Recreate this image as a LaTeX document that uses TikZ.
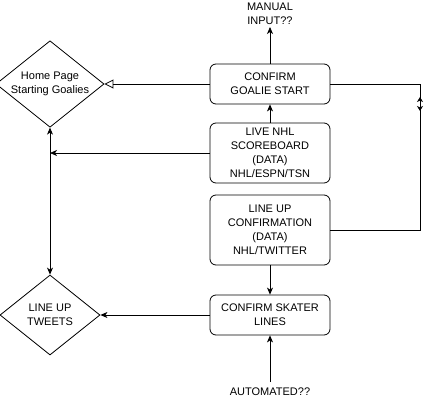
\documentclass[tikz,border=0pt]{standalone}
\usepackage{fontspec}
\setmainfont{Liberation Sans}
\usetikzlibrary{shapes.geometric,arrows.meta}
\begin{document}
\begin{tikzpicture}[x=1pt,y=-1pt,
  font=\fontsize{11}{14}\selectfont,
  line width=0.8pt,
  rbox/.style={draw,rounded corners=6pt,minimum width=120pt,align=center,inner sep=0pt},
  dia/.style={draw,diamond,aspect=1.25,minimum width=100pt,minimum height=80pt,inner sep=0pt,align=center},
  arr/.style={-{Stealth[length=7pt,width=6pt,inset=2pt]}},
  sarr/.style={-{Stealth[length=5pt,width=6pt,inset=1.5pt]}},
  lbl/.style={align=center,inner sep=0pt}]
\useasboundingbox (0,0) rectangle (429,405);
\node[dia] (home) at (50,84) {Home Page\\Starting Goalies};
\node[dia] (tweets) at (50,315) {LINE UP\\TWEETS};
\node[rbox,minimum height=40pt] (goalie) at (270,84) {CONFIRM\\GOALIE START};
\node[rbox,minimum height=60pt] (live) at (270,153) {LIVE NHL\\SCOREBOARD\\(DATA)\\NHL/ESPN/TSN};
\node[rbox,minimum height=70pt] (conf) at (270,230) {LINE UP\\CONFIRMATION\\(DATA)\\NHL/TWITTER};
\node[rbox,minimum height=40pt] (skater) at (270,315) {CONFIRM SKATER\\LINES};
\node[lbl] (manual) at (270,14) {MANUAL\\INPUT??};
\node[lbl] (auto) at (270,392) {AUTOMATED??};
\coordinate (mtip) at (270,27);
\coordinate (abase) at (270,382);
\coordinate (vline) at (50,153);
\coordinate (rtop) at (420,84);
\coordinate (rbot) at (420,230);
\coordinate (rup) at (420,97);
\coordinate (rdn) at (420,111);
\coordinate (rmidu) at (420,102.5);
\coordinate (rmidd) at (420,105.5);
% connectors
\draw[arr] (goalie.north) -- (mtip);
\draw[-{Triangle[open,length=9pt,width=9pt]}] (goalie.west) -- (home.east);
\draw[arr] (live.north) -- (goalie.south);
\draw[arr] (live.west) -- (vline);
\draw[arr] (conf.south) -- (skater.north);
\draw[arr] (skater.west) -- (tweets.east);
\draw[arr] (abase) -- (skater.south);
\draw[{Stealth[length=7pt,width=6pt,inset=2pt]}-{Stealth[length=7pt,width=6pt,inset=2pt]}] (home.south) -- (tweets.north);
\draw (goalie.east) -- (rtop) -- (rbot) -- (conf.east);
\draw[sarr] (rmidu) -- (rup);
\draw[sarr] (rmidd) -- (rdn);
\end{tikzpicture}
\end{document}
